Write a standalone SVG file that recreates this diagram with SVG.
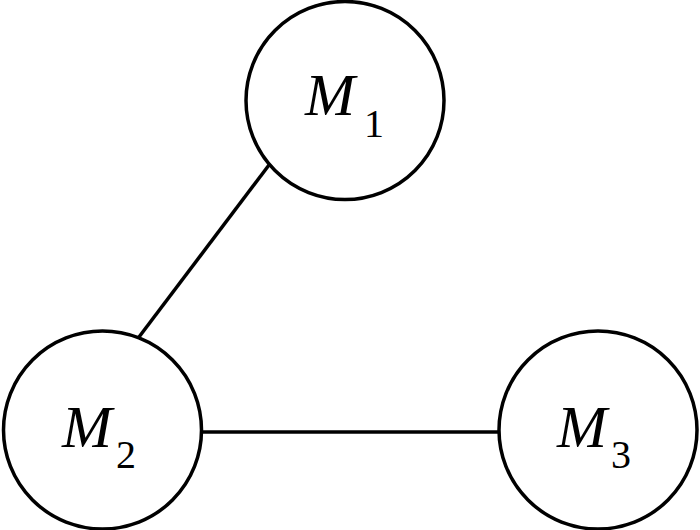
<svg xmlns="http://www.w3.org/2000/svg" width="700" height="530" viewBox="0 0 700 530">
<style>
.node{fill:#fff;stroke:#000;stroke-width:3.5}
.edge{stroke:#000;stroke-width:3.5;fill:none}
.t{font-family:'Liberation Serif','Times New Roman','DejaVu Serif',serif}
.m{font-style:italic;font-size:60px}
.s{font-size:40px}
</style>
<rect width="700" height="530" fill="#fff"/>
<g id="connectors">
<line class="edge" x1="269" y1="165" x2="139" y2="337"/>
<line class="edge" x1="203" y1="432" x2="498" y2="432"/>
</g>
<g id="M1">
<circle class="node" cx="345" cy="100.5" r="99"/>
<text class="t" x="305" y="115" font-family="Liberation Serif, serif"><tspan class="m">M</tspan><tspan class="s" x="364" y="137">1</tspan></text>
</g>
<g id="M2">
<circle class="node" cx="102.5" cy="430" r="99"/>
<text class="t" x="62" y="447" font-family="Liberation Serif, serif"><tspan class="m">M</tspan><tspan class="s" x="116" y="468">2</tspan></text>
</g>
<g id="M3">
<circle class="node" cx="598" cy="430" r="99"/>
<text class="t" x="557" y="447" font-family="Liberation Serif, serif"><tspan class="m">M</tspan><tspan class="s" x="611" y="468">3</tspan></text>
</g>
</svg>
